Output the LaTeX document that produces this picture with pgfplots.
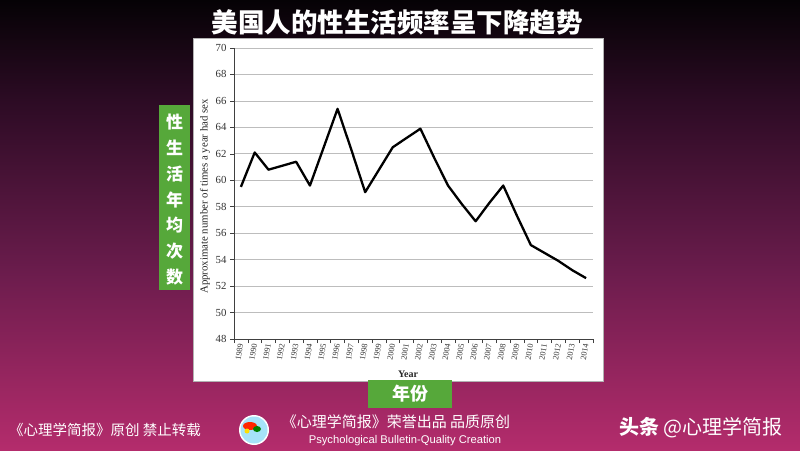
\documentclass[border=0pt]{standalone}
\usepackage{pgfplots}
\pgfplotsset{compat=1.18}
\usepackage{fontspec}
\setmainfont{Liberation Serif}
\newfontfamily\cjk{Noto Sans CJK SC}
\newfontfamily\arial{Liberation Sans}
\definecolor{bgA}{HTML}{050205}
\definecolor{bgB}{HTML}{2C0B24}
\definecolor{bgC}{HTML}{6A1C4C}
\definecolor{bgD}{HTML}{B42C6C}
\definecolor{grn}{HTML}{56A83A}
\definecolor{gridc}{HTML}{BDBDBD}
\begin{document}
\begin{tikzpicture}[x=1pt,y=1pt]
% background
\fill[top color=bgA,bottom color=bgB] (0,350) rectangle (800,450);
\fill[top color=bgB,bottom color=bgC] (0,180) rectangle (800,350.5);
\fill[top color=bgC,bottom color=bgD] (0,0) rectangle (800,180.5);
% chart area
\fill[white, draw=gray!60, line width=0.6pt] (193,69) rectangle (603,412);
\begin{axis}[at={(234pt,111pt)}, anchor=south west, scale only axis,
  width=359pt, height=291pt,
  xmin=1988.5, xmax=2014.5, ymin=48, ymax=70,
  axis lines=left, axis line style={-, draw=black!75, line width=0.8pt},
  xtick={1988.5,1989.5,1990.5,1991.5,1992.5,1993.5,1994.5,1995.5,1996.5,1997.5,1998.5,1999.5,2000.5,2001.5,2002.5,2003.5,2004.5,2005.5,2006.5,2007.5,2008.5,2009.5,2010.5,2011.5,2012.5,2013.5,2014.5},
  x tick label as interval,
  xticklabels={1989,1990,1991,1992,1993,1994,1995,1996,1997,1998,1999,2000,2001,2002,2003,2004,2005,2006,2007,2008,2009,2010,2011,2012,2013,2014},
  ytick={48,50,...,70},
  ymajorgrids, grid style={gridc, line width=0.8pt},
  tick align=outside, major tick length=4pt,
  tick style={black!75, line width=0.6pt},
  xticklabel style={rotate=80, anchor=east, font=\fontsize{8.2}{9}\selectfont, text=black!80, inner sep=0.6pt},
  yticklabel style={font=\fontsize{10.8}{12}\selectfont, text=black!80},
  /pgf/number format/assume math mode=true,
  xlabel={Year},
  xlabel style={font=\bfseries\fontsize{10}{12}\selectfont, text=black!85, at={(axis description cs:0.485,-0.12)}, anchor=center},
  ylabel={Approximate number of times a year had sex},
  ylabel style={font=\fontsize{10.8}{12}\selectfont, text=black!85, at={(axis description cs:-0.081,0.49)}, anchor=center},
]
\addplot[black, line width=2.3pt, line join=round] coordinates {
(1989,59.5) (1990,62.1) (1991,60.8) (1992,61.1) (1993,61.4) (1994,59.6)
(1995,62.5) (1996,65.4) (1997,62.3) (1998,59.1) (1999,60.8) (2000,62.5)
(2001,63.2) (2002,63.9) (2003,61.7) (2004,59.6) (2005,58.2) (2006,56.9)
(2007,58.3) (2008,59.6) (2009,57.3) (2010,55.1) (2011,54.5) (2012,53.9)
(2013,53.2) (2014,52.6)};
\end{axis}
% title
\node[text=white, font=\cjk\bfseries\fontsize{26.5}{30}\selectfont] at (397,428) {美国人的性生活频率呈下降趋势};
% left green box
\fill[grn] (159,160) rectangle (190,345);
\foreach \c [count=\i] in {性,生,活,年,均,次,数}
  \node[text=white, font=\cjk\bfseries\fontsize{17}{20}\selectfont] at (174.5,353.5-25.8*\i) {\c};
% bottom green box
\fill[grn] (368,42) rectangle (452,70);
\node[text=white, font=\cjk\bfseries\fontsize{18}{20}\selectfont] at (410,56) {年份};
% footer
\node[text=white, font=\cjk\fontsize{14.5}{16}\selectfont] at (105,20) {《心理学简报》原创 禁止转载};
\fill[white] (254,20) circle (15);
\fill[cyan!35!white] (254,20) circle (13.5);
\fill[red!70!orange] (250,24) ellipse (7 and 4);
\fill[green!50!black] (257,21) ellipse (4 and 3);
\fill[yellow!80!orange] (247,19) circle (2.5);
\node[text=white, font=\cjk\fontsize{15}{17}\selectfont] at (396,28) {《心理学简报》荣誉出品 品质原创};
\node[text=white, font=\arial\fontsize{11.2}{13}\selectfont] at (405,9) {Psychological Bulletin-Quality Creation};
\node[text=white, font=\cjk\fontsize{20}{22}\selectfont, anchor=east] at (786,22) {{\bfseries 头条} @心理学简报};
\end{tikzpicture}
\end{document}
